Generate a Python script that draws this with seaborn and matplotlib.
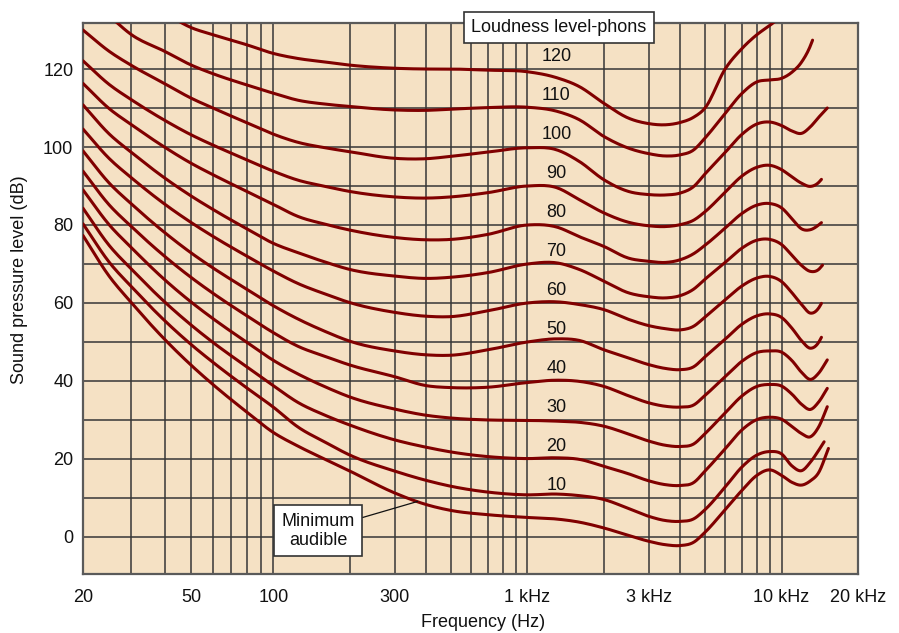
import numpy as np
import pandas as pd
import matplotlib
matplotlib.use("Agg")
import matplotlib.pyplot as plt
from matplotlib.ticker import FixedLocator, FixedFormatter, NullFormatter
import seaborn as sns

nan = np.nan

# Equal-loudness contours: sound pressure level (dB) against frequency (Hz)
freq_hz = [20, 25, 30, 40, 50, 60, 80, 100, 125, 160, 200, 300, 400, 500, 700,
           1000, 1300, 1600, 2000, 2500, 3000, 3500, 4000, 4500, 5000,
           6000, 7000, 8000, 9000, 10000, 11000, 12000, 13000, 14000]

spl_120 = [nan, nan, nan, 134.3, 130.6, 128.8, 126.2, 124.0, 122.7, 121.8, 121.0, 120.2, 120.0, 120.0, 119.7,
           119.3, 117.8, 115.5, 111.2, 107.4, 106.0, 105.7, 106.3, 107.6, 110.0,
           120.0, 125.3, 128.8, 131.2, 133.5, nan, nan, nan, nan]
spl_110 = [nan, 133.6, 128.9, 124.5, 121.0, 118.8, 115.9, 113.8, 112.0, 111.0, 110.4, 109.5, 109.4, 109.7, 110.1,
           110.2, 109.2, 107.0, 102.7, 99.7, 98.3, 97.7, 98.0, 99.2, 102.3,
           108.6, 113.8, 116.7, 117.2, 117.6, 119.2, 121.8, 126.0, nan]
spl_100 = [130.0, 124.5, 121.0, 116.2, 112.5, 110.0, 106.2, 103.3, 101.2, 99.8, 98.8, 97.1, 97.0, 97.6, 98.7,
           99.8, 99.3, 96.3, 91.6, 88.6, 87.8, 87.7, 88.2, 89.8, 93.1,
           98.6, 103.3, 105.9, 106.4, 105.5, 104.1, 103.5, 105.2, 107.6]
spl_90 = [122.1, 116.0, 112.2, 106.8, 103.1, 100.5, 96.7, 93.8, 91.5, 89.9, 88.6, 87.2, 86.9, 87.2, 88.3,
          90.0, 89.6, 86.5, 83.1, 80.7, 79.8, 79.6, 80.1, 81.2, 83.4,
          88.4, 92.6, 94.8, 95.3, 94.2, 92.3, 90.7, 89.9, 90.9]
spl_80 = [116.3, 109.8, 105.8, 99.9, 95.8, 92.9, 88.6, 85.3, 82.2, 80.2, 78.7, 76.8, 76.2, 76.3, 77.6,
          80.0, 79.5, 77.0, 74.5, 71.5, 70.7, 70.4, 71.1, 72.6, 74.8,
          79.2, 83.0, 85.1, 85.5, 84.4, 81.6, 79.0, 78.8, 80.0]
spl_70 = [110.8, 103.3, 98.7, 92.0, 87.4, 84.0, 79.0, 75.3, 72.9, 70.5, 68.6, 66.9, 66.3, 66.6, 67.8,
          70.0, 70.3, 68.6, 65.6, 62.6, 61.6, 61.3, 61.9, 63.5, 66.1,
          70.4, 74.1, 76.1, 76.3, 75.0, 72.2, 69.6, 68.1, 68.6]
spl_60 = [104.6, 97.0, 92.2, 85.3, 80.6, 77.1, 72.0, 68.2, 65.0, 62.3, 60.1, 57.6, 56.6, 56.5, 58.0,
          60.0, 60.3, 59.6, 58.3, 55.8, 54.2, 53.4, 53.1, 54.0, 56.4,
          60.8, 64.4, 66.4, 66.8, 65.5, 62.6, 59.6, 57.4, 58.7]
spl_50 = [99.0, 90.7, 85.5, 78.0, 72.8, 69.0, 63.5, 59.3, 55.9, 52.7, 50.2, 47.7, 46.7, 46.6, 48.0,
          50.0, 50.8, 50.4, 48.0, 45.9, 44.2, 43.2, 42.9, 43.6, 46.2,
          50.7, 54.6, 56.7, 57.2, 56.3, 53.5, 50.3, 48.4, 49.9]
spl_40 = [93.8, 85.1, 79.7, 71.9, 66.5, 62.5, 56.7, 52.4, 48.9, 46.3, 44.1, 41.1, 38.8, 38.3, 38.4,
          39.6, 40.2, 39.9, 38.6, 36.2, 34.4, 33.5, 33.3, 33.8, 36.3,
          41.1, 45.1, 47.3, 47.7, 47.4, 45.2, 42.2, 40.4, 42.0]
spl_30 = [89.0, 80.0, 74.3, 65.9, 60.2, 56.0, 49.9, 45.3, 41.8, 38.5, 35.9, 32.8, 31.2, 30.5, 30.0,
          29.9, 29.7, 29.4, 28.4, 26.4, 24.6, 23.5, 23.2, 23.8, 26.5,
          31.8, 36.2, 38.6, 39.1, 38.7, 36.6, 34.0, 32.7, 34.6]
spl_20 = [84.3, 74.7, 68.8, 60.2, 54.3, 49.9, 43.6, 38.8, 34.5, 31.2, 28.7, 24.9, 23.0, 21.8, 20.6,
          20.1, 20.3, 19.9, 18.1, 16.2, 14.4, 13.4, 13.2, 13.9, 16.9,
          22.6, 27.5, 30.1, 30.7, 30.2, 28.3, 26.5, 25.7, 28.2]
spl_10 = [80.3, 70.4, 64.3, 55.4, 49.3, 44.8, 38.2, 33.3, 28.2, 24.3, 21.0, 16.9, 14.5, 13.0, 11.5,
          10.8, 11.0, 10.6, 9.6, 7.3, 5.3, 4.2, 4.0, 4.6, 7.0,
          12.8, 18.0, 21.0, 21.9, 21.3, 18.2, 17.0, 19.2, 22.2]
spl_min = [77.3, 66.8, 60.2, 50.6, 44.0, 39.1, 32.0, 26.8, 23.3, 19.9, 16.9, 11.3, 8.3, 6.8, 5.7,
           5.0, 4.6, 3.8, 2.3, 0.4, -1.1, -2.0, -2.2, -1.4, 1.2,
           7.0, 12.0, 15.8, 17.2, 15.8, 14.0, 13.3, 14.4, 16.5]

# Where each contour stops at the high-frequency end
curve_names = ["120", "110", "100", "90", "80", "70", "60", "50", "40", "30", "20", "10", "min"]
end_hz = [nan, 13250, 15140, 14360, 14360, 14500, 14360, 14360, 15140, 15140, 15140, 14710, 15300]
end_db = [nan, 127.4, 110.0, 91.7, 80.6, 69.7, 59.9, 51.2, 45.4, 38.1, 33.4, 24.4, 22.7]

phon_levels = [120, 110, 100, 90, 80, 70, 60, 50, 40, 30, 20, 10]

tick_hz = [20, 50, 100, 300, 1000, 3000, 10000, 20000]
tick_text = ["20", "50", "100", "300", "1 kHz", "3 kHz", "10 kHz", "20 kHz"]
grid_hz = [30, 40, 60, 70, 80, 90, 200, 400, 500, 600, 700, 800, 900,
           2000, 4000, 5000, 6000, 7000, 8000, 9000]

series = [spl_120, spl_110, spl_100, spl_90, spl_80, spl_70, spl_60,
          spl_50, spl_40, spl_30, spl_20, spl_10, spl_min]

# Frequency axis: logarithmic, with the 20-100 Hz stretch drawn a little wider
K = 1.0714


def fwd(f):
    lf = np.log10(np.maximum(np.asarray(f, dtype=float), 1e-6))
    return np.where(lf >= 2, lf, 2 - (2 - lf) * K)


def inv(u):
    u = np.asarray(u, dtype=float)
    return np.where(u >= 2, 10 ** u, 10 ** (2 - (2 - u) / K))


def smooth_contour(f, v, steps=12):
    """Cubic Hermite pass through the contour points, in axis space."""
    u = fwd(np.asarray(f, dtype=float))
    v = np.asarray(v, dtype=float)
    n = len(u)
    d = np.diff(v) / np.diff(u)
    m = np.empty(n)
    m[0], m[-1] = d[0], d[-1]
    for i in range(1, n - 1):
        h0, h1 = u[i] - u[i - 1], u[i + 1] - u[i]
        m[i] = (d[i - 1] * h1 + d[i] * h0) / (h0 + h1)
    uu, vv = [], []
    for i in range(n - 1):
        h = u[i + 1] - u[i]
        t = np.linspace(0, 1, steps, endpoint=False)
        h00 = 2 * t**3 - 3 * t**2 + 1
        h10 = t**3 - 2 * t**2 + t
        h01 = -2 * t**3 + 3 * t**2
        h11 = t**3 - t**2
        uu.append(u[i] + t * h)
        vv.append(h00 * v[i] + h10 * h * m[i] + h01 * v[i + 1] + h11 * h * m[i + 1])
    uu.append([u[-1]])
    vv.append([v[-1]])
    return inv(np.concatenate(uu)), np.concatenate(vv)


rows = []
for name, spl, fe, de in zip(curve_names, series, end_hz, end_db):
    pts = [(f, v) for f, v in zip(freq_hz, spl) if not np.isnan(v)]
    if not np.isnan(fe):
        pts.append((fe, de))
    pts.sort()
    fs, vs = smooth_contour([p[0] for p in pts], [p[1] for p in pts])
    for f, v in zip(fs, vs):
        rows.append({"curve": name, "freq": f, "spl": v})
df = pd.DataFrame(rows)

sns.set_style("white")
plt.rcParams["font.family"] = ["Liberation Sans", "DejaVu Sans"]

fig = plt.figure(figsize=(8.99, 6.33), dpi=100)
ax = fig.add_axes([83 / 899, 59 / 633, 775 / 899, 551 / 633])
ax.set_facecolor("#F5E1C4")

line_color = "#800000"
sns.lineplot(data=df, x="freq", y="spl", hue="curve", hue_order=curve_names,
             palette={n: line_color for n in curve_names}, estimator=None,
             sort=False, legend=False, linewidth=2.2, ax=ax, zorder=3)
for ln in ax.get_lines():
    ln.set_solid_joinstyle("round")

ax.set_xscale("function", functions=(fwd, inv))
ax.set_xlim(20, 20000)
ax.set_ylim(-9.5, 131.8)

ax.xaxis.set_major_locator(FixedLocator(tick_hz))
ax.xaxis.set_major_formatter(FixedFormatter(tick_text))
ax.xaxis.set_minor_locator(FixedLocator(grid_hz))
ax.xaxis.set_minor_formatter(NullFormatter())
ax.yaxis.set_major_locator(FixedLocator(list(range(0, 121, 20))))
ax.yaxis.set_minor_locator(FixedLocator(list(range(10, 120, 20))))
ax.yaxis.set_minor_formatter(NullFormatter())
ax.tick_params(which="both", length=0, labelsize=13, colors="#111111")
ax.tick_params(axis="x", pad=11)
ax.tick_params(axis="y", pad=7)
ax.grid(which="both", color="#363636", linewidth=1.1)
ax.set_axisbelow(True)
for sp in ax.spines.values():
    sp.set_color("#5a5a5a")
    sp.set_linewidth(1.6)

ax.set_xlabel("Frequency (Hz)", fontsize=13, color="#111111")
ax.xaxis.set_label_coords(0.516, -0.072)
ax.set_ylabel("Sound pressure level (dB)", fontsize=13, color="#111111")
ax.yaxis.set_label_coords(-0.071, 0.535)

# Phon value above each contour near 1 kHz
for lvl in phon_levels:
    ax.text(1300, lvl + 3.3, str(lvl), ha="center", va="center", fontsize=13,
            color="#111111", zorder=4)

ax.text(0.614, 0.992, "Loudness level-phons", transform=ax.transAxes,
        ha="center", va="center", fontsize=13, color="#111111", zorder=6,
        clip_on=False,
        bbox=dict(boxstyle="square,pad=0.4", fc="white", ec="#333333", lw=1.2))

target_hz = 370
target_db = float(np.interp(np.log10(target_hz), np.log10(freq_hz), spl_min))
ax.annotate("Minimum\naudible", xy=(target_hz, target_db),
            xytext=(0.3032, 0.0789), textcoords="axes fraction",
            ha="center", va="center", fontsize=13, color="#111111",
            linespacing=1.15, zorder=6,
            bbox=dict(boxstyle="square,pad=0.4", fc="white", ec="#333333", lw=1.2),
            arrowprops=dict(arrowstyle="-", color="#111111", lw=0.9,
                            shrinkA=0, shrinkB=0))

fig.savefig("out.png", dpi=100, facecolor="white")
